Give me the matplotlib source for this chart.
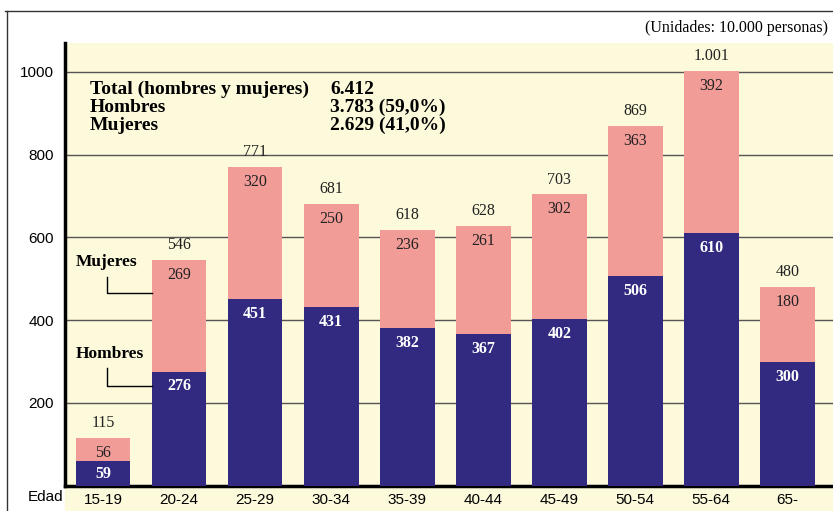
import matplotlib.pyplot as plt
from matplotlib.lines import Line2D

# --- Data (unidades: 10.000 personas) ---
edades = ['15-19', '20-24', '25-29', '30-34', '35-39', '40-44', '45-49', '50-54', '55-64', '65-']
hombres = [59, 276, 451, 431, 382, 367, 402, 506, 610, 300]
mujeres = [56, 269, 320, 250, 236, 261, 302, 363, 392, 180]
totales = ['115', '546', '771', '681', '618', '628', '703', '869', '1.001', '480']
yticks = [200, 400, 600, 800, 1000]

CREAM = '#FDF9DB'
PINK = '#F29C98'
NAVY = '#312A80'
SERIF = ['Liberation Serif', 'DejaVu Serif']
SANS = ['Liberation Sans', 'DejaVu Sans']

fig = plt.figure(figsize=(8.33, 5.11), dpi=100)
fig.patch.set_facecolor('white')

# cream strip under the x axis for tick labels
fig.patches.append(plt.Rectangle((65 / 833, 0), 1 - 65 / 833, 26 / 511,
                                 transform=fig.transFigure, color=CREAM, zorder=-5))

ax = fig.add_axes([65 / 833, 1 - 485.75 / 511, 1 - 65 / 833, (485.75 - 43) / 511])
ax.set_facecolor(CREAM)

x = list(range(len(edades)))
width = 0.72
ax.bar(x, hombres, width, color=NAVY, zorder=3)
ax.bar(x, mujeres, width, bottom=hombres, color=PINK, zorder=3)

for i in x:
    h = hombres[i]
    m = mujeres[i]
    ax.annotate(totales[i], (i, h + m), xytext=(0, 5), textcoords='offset points',
                ha='center', va='bottom', fontsize=11.5, family=SERIF, color='#222222')
    ax.annotate(str(m), (i, h + m), xytext=(0, -5), textcoords='offset points',
                ha='center', va='top', fontsize=11.5, family=SERIF, color='#222222', zorder=4)
    if h < 100:
        ax.text(i, h / 2, str(h), ha='center', va='center', fontsize=11.5,
                family=SERIF, color='white', fontweight='bold', zorder=4)
    else:
        ax.annotate(str(h), (i, h), xytext=(0, -5), textcoords='offset points',
                    ha='center', va='top', fontsize=11.5, family=SERIF, color='white',
                    fontweight='bold', zorder=4)

ax.set_xlim(-0.5, 9.6)
ax.set_ylim(0, 1070)
ax.set_yticks(yticks)
ax.set_yticklabels([str(v) for v in yticks], family=SANS, fontsize=11)
ax.set_xticks(x)
ax.set_xticklabels(edades, family=SANS, fontsize=11)
ax.tick_params(length=0, pad=5)
ax.tick_params(axis='y', pad=8)
ax.yaxis.grid(True, color='#555555', linewidth=1.0, zorder=1)
ax.set_axisbelow(True)
for s in ['top', 'right']:
    ax.spines[s].set_visible(False)
ax.spines['left'].set_linewidth(2.5)
ax.spines['bottom'].set_linewidth(2.5)

# summary block
rows = [('Total (hombres y mujeres)', '6.412'),
        ('Hombres', '3.783 (59,0%)'),
        ('Mujeres', '2.629 (41,0%)')]
for k, (lab, val) in enumerate(rows):
    yy = 1 - (89 + k * 18) / 511
    fig.text(90 / 833, yy, lab, family=SERIF, fontweight='bold', fontsize=14,
             va='center', ha='left')
    fig.text(330 / 833, yy, val, family=SERIF, fontweight='bold', fontsize=14,
             va='center', ha='left')

# series labels with leader lines
for lab, ty, ly0, ly1 in [('Mujeres', 262, 277, 293), ('Hombres', 354, 368, 386)]:
    fig.text(76 / 833, 1 - ty / 511, lab, family=SERIF, fontweight='bold', fontsize=12.5,
             va='center', ha='left')
    fig.add_artist(Line2D([107 / 833, 107 / 833, 152 / 833],
                          [1 - ly0 / 511, 1 - ly1 / 511, 1 - ly1 / 511],
                          color='black', linewidth=1.0))

fig.text(828 / 833, 1 - 28 / 511, '(Unidades: 10.000 personas)', family=SERIF,
         fontsize=11.5, ha='right', va='center')
fig.text(63 / 833, 1 - 497 / 511, 'Edad', family=SANS, fontsize=11, ha='right', va='center')

# outer frame lines
fig.add_artist(Line2D([5 / 833, 1], [1 - 11 / 511, 1 - 11 / 511], color='#333333', linewidth=1.0))
fig.add_artist(Line2D([7 / 833, 7 / 833], [1 - 11 / 511, 0], color='#333333', linewidth=1.0))

fig.savefig('out.png', dpi=100, facecolor=fig.get_facecolor())
